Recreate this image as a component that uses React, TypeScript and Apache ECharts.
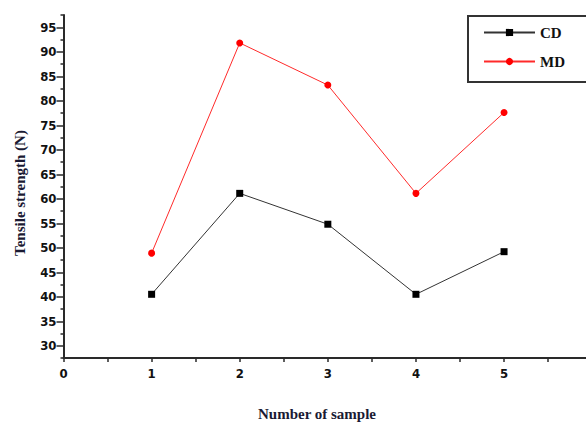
import React, { useEffect, useRef } from "react";
import * as echarts from "echarts";

const samples = [1, 2, 3, 4, 5];
const cdValues = [40.5, 61.1, 54.8, 40.5, 49.2];
const mdValues = [48.9, 91.8, 83.2, 61.1, 77.6];
const yMajorTicks = [30, 35, 40, 45, 50, 55, 60, 65, 70, 75, 80, 85, 90, 95];
const yMinorTicks = [27.5, 32.5, 37.5, 42.5, 47.5, 52.5, 57.5, 62.5, 67.5, 72.5, 77.5, 82.5, 87.5, 92.5, 97.5];
const xTickValues = [0, 0.5, 1, 1.5, 2, 2.5, 3, 3.5, 4, 4.5, 5, 5.5];
const xLabelValues = [0, 1, 2, 3, 4, 5];
const seriesNames = ["CD", "MD"];

const tickFont = "'Liberation Sans Narrow', 'DejaVu Sans Condensed', 'Arial Narrow', sans-serif";
const titleFont = "'Liberation Serif', 'Times New Roman', serif";
const axisColor = "#2a2a2a";

export default function App() {
  const ref = useRef<HTMLDivElement>(null);
  useEffect(() => {
    if (!ref.current) return;
    const chart = echarts.init(ref.current, undefined, { renderer: "svg" });
    const yBase = {
      type: "value" as const,
      min: 27.5,
      max: 97.5,
      interval: 2.5,
      position: "left" as const,
      splitLine: { show: false },
    };
    chart.setOption({
      animation: false,
      backgroundColor: "#ffffff",
      grid: { left: 63.5, right: 0, top: 15, bottom: 66 },
      xAxis: {
        type: "value",
        min: 0,
        max: 5.93,
        interval: 0.5,
        splitLine: { show: false },
        axisLine: { show: true, lineStyle: { color: axisColor, width: 2 } },
        axisTick: { show: true, length: 4, customValues: xTickValues, lineStyle: { color: axisColor, width: 1.5 } },
        axisLabel: {
          customValues: xLabelValues,
          margin: 9,
          fontFamily: tickFont,
          fontWeight: "bold",
          fontSize: 13,
          color: "#111",
          formatter: (v: number) => String(v),
        },
      },
      yAxis: [
        {
          ...yBase,
          axisLine: { show: true, lineStyle: { color: axisColor, width: 2 } },
          axisTick: { show: true, length: 7, customValues: yMajorTicks, lineStyle: { color: axisColor, width: 1.5 } },
          axisLabel: {
            customValues: yMajorTicks,
            margin: 7,
            fontFamily: tickFont,
            fontWeight: "bold",
            fontSize: 13,
            color: "#111",
            formatter: (v: number) => String(v),
          },
        },
        {
          ...yBase,
          axisLine: { show: false },
          axisTick: { show: true, length: 3, customValues: yMinorTicks, lineStyle: { color: axisColor, width: 1.5 } },
          axisLabel: { show: false },
        },
      ],
      legend: {
        orient: "vertical",
        left: 483,
        top: 25,
        padding: 0,
        itemWidth: 51,
        itemHeight: 9,
        itemGap: 14,
        textStyle: { fontFamily: titleFont, fontWeight: "bold", fontSize: 15, color: "#111" },
        data: seriesNames,
      },
      graphic: [
        {
          type: "rect",
          shape: { x: 468, y: 16, width: 130, height: 66 },
          style: { fill: "none", stroke: "#333", lineWidth: 2 },
          silent: true,
        },
        {
          type: "text",
          x: 20,
          y: 193,
          rotation: Math.PI / 2,
          style: {
            text: "Tensile strength (N)",
            fontFamily: titleFont,
            fontWeight: "bold",
            fontSize: 15,
            fill: "#1a1a33",
            align: "center",
            verticalAlign: "middle",
          },
        },
        {
          type: "text",
          x: 317,
          y: 414,
          style: {
            text: "Number of sample",
            fontFamily: titleFont,
            fontWeight: "bold",
            fontSize: 15,
            fill: "#1a1a33",
            align: "center",
            verticalAlign: "middle",
          },
        },
      ],
      series: [
        {
          name: seriesNames[0],
          type: "line",
          data: samples.map((s, i) => [s, cdValues[i]]),
          symbol: "rect",
          symbolSize: 7,
          itemStyle: { color: "#000" },
          lineStyle: { color: "#333", width: 1 },
        },
        {
          name: seriesNames[1],
          type: "line",
          data: samples.map((s, i) => [s, mdValues[i]]),
          symbol: "circle",
          symbolSize: 7,
          itemStyle: { color: "#ff0000" },
          lineStyle: { color: "#ff2a2a", width: 1 },
        },
      ],
    });
    return () => chart.dispose();
  }, []);
  return (
    <div
      ref={ref}
      style={{ position: "fixed", left: 0, top: 0, width: 586, height: 424, background: "#fff" }}
    />
  );
}
